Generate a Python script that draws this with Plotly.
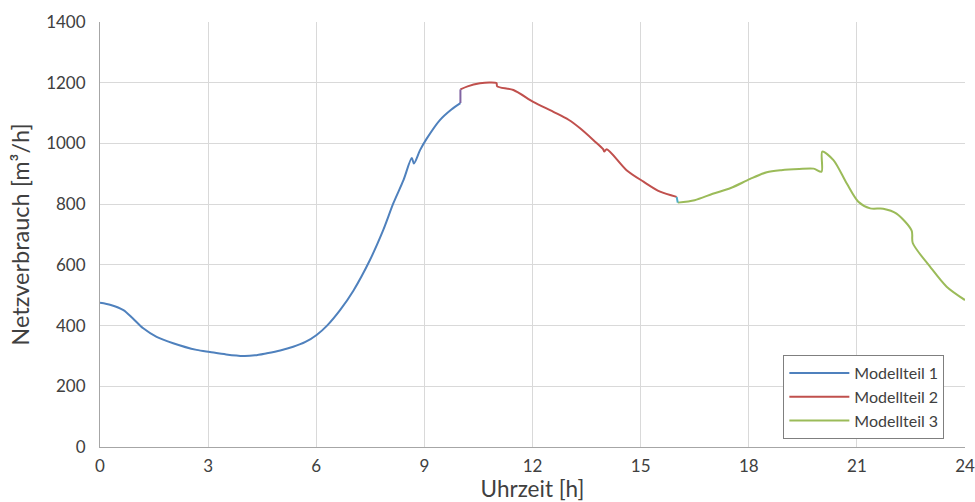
import plotly.graph_objects as go

# Modellteil 1 (blue)
x1 = [0, 0.3, 0.65, 0.9, 1.2, 1.57, 2.03, 2.68, 3.05, 3.5, 3.98, 4.3, 4.63, 5.0, 5.36, 5.7,
      6.01, 6.3, 6.66, 7.03, 7.49, 7.86, 8.14, 8.42, 8.65, 8.71, 8.88, 9.06, 9.43, 9.75, 10.0]
y1 = [475, 468, 451, 425, 391, 363, 342, 320, 313, 305, 300, 302, 309, 318, 330, 346,
      369, 400, 451, 515, 616, 715, 803, 879, 952, 934, 978, 1015, 1077, 1112, 1133]

# connector 1->2 (purple)
xc1 = [10.0, 10.0]
yc1 = [1133, 1178]

# Modellteil 2 (red)
x2 = [10.0, 10.2, 10.54, 10.8, 11.0, 11.02, 11.47, 12.02, 12.58, 13.0, 13.32, 13.7, 13.96,
      13.99, 14.06, 14.61, 15.08, 15.54, 16.0]
y2 = [1178, 1188, 1198, 1201, 1199, 1188, 1176, 1137, 1104, 1078, 1050, 1010, 981,
      973, 981, 912, 874, 841, 824]

# connector 2->3 (cyan)
xc2 = [16.0, 16.03]
yc2 = [824, 805]

# Modellteil 3 (green)
x3 = [16.03, 16.5, 17.0, 17.5, 18.04, 18.5, 18.9, 19.4, 19.8, 20.02, 20.04, 20.35, 20.72,
      21.04, 21.37, 21.73, 22.1, 22.52, 22.55, 23.03, 23.49, 24.0]
y3 = [805, 813, 834, 853, 883, 905, 912, 916, 917, 907, 973, 945, 868,
      808, 786, 785, 769, 713, 672, 594, 528, 484]

x_ticks = [0, 3, 6, 9, 12, 15, 18, 21, 24]
y_ticks = [0, 200, 400, 600, 800, 1000, 1200, 1400]

FONT = "Lato, Carlito, Calibri, sans-serif"
SPL = dict(shape="spline", smoothing=0.8)

fig = go.Figure()
fig.add_trace(go.Scatter(x=x1, y=y1, mode="lines", name="Modellteil 1",
                         line=dict(color="#4F81BD", width=2, **SPL)))
fig.add_trace(go.Scatter(x=x2, y=y2, mode="lines", name="Modellteil 2",
                         line=dict(color="#C0504D", width=2, **SPL)))
fig.add_trace(go.Scatter(x=x3, y=y3, mode="lines", name="Modellteil 3",
                         line=dict(color="#9BBB59", width=2, **SPL)))
fig.add_trace(go.Scatter(x=xc1, y=yc1, mode="lines", showlegend=False,
                         line=dict(color="#8064A2", width=2)))
fig.add_trace(go.Scatter(x=xc2, y=yc2, mode="lines", showlegend=False,
                         line=dict(color="#4BACC6", width=2)))

fig.update_layout(
    width=975, height=502,
    margin=dict(l=100, r=10, t=22, b=55, autoexpand=False),
    plot_bgcolor="white", paper_bgcolor="white",
    font=dict(family=FONT, size=17, color="#404040"),
    legend=dict(x=0.79, y=0.2165, xanchor="left", yanchor="top",
                bgcolor="white", bordercolor="#7F7F7F", borderwidth=1,
                font=dict(size=16, color="#404040"),
                tracegroupgap=0, itemwidth=60),
    xaxis=dict(range=[0, 24], tickvals=x_ticks, ticktext=[str(v) for v in x_ticks],
               showgrid=True, gridcolor="#D9D9D9", gridwidth=1,
               showline=True, linecolor="#A6A6A6", linewidth=1,
               zeroline=False, ticks="", automargin=False,
               ticklabelstandoff=4,
               title=dict(text="Uhrzeit [h]", font=dict(size=22.5, color="#404040"),
                          standoff=5),
               tickfont=dict(size=17, color="#404040")),
    yaxis=dict(range=[0, 1400], tickvals=y_ticks,
               showgrid=True, gridcolor="#D9D9D9", gridwidth=1,
               showline=True, linecolor="#A6A6A6", linewidth=1,
               zeroline=False, ticks="", automargin=False,
               ticklabelstandoff=10,
               title=dict(text="Netzverbrauch [m³/h]", font=dict(size=23.5, color="#404040"),
                          standoff=9),
               tickfont=dict(size=17, color="#404040")),
)

fig.write_html("out.html")
